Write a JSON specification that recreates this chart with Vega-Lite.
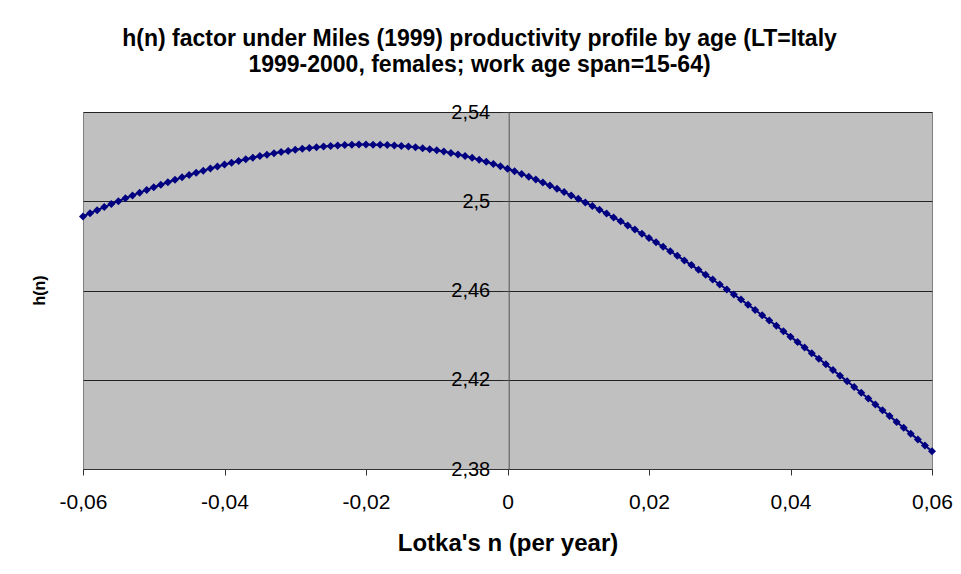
{
  "$schema": "https://vega.github.io/schema/vega-lite/v6.json",
  "width": 849,
  "height": 357,
  "autosize": {"type": "none"},
  "padding": {"left": 83, "top": 112, "right": 29, "bottom": 105},
  "background": "white",
  "config": {
    "font": "Liberation Sans",
    "view": {"fill": "#C0C0C0", "stroke": "#808080", "strokeWidth": 1},
    "locale": {"number": {"decimal": ",", "thousands": ".", "grouping": [3], "currency": ["", ""], "minus": "-"}},
    "axis": {"labelFont": "Liberation Sans", "titleFont": "Liberation Sans", "labelColor": "#000", "titleColor": "#000"}
  },
  "title": {
    "text": ["h(n) factor under Miles (1999) productivity profile by age (LT=Italy", "1999-2000, females; work age span=15-64)"],
    "font": "Liberation Sans",
    "fontSize": 23,
    "fontWeight": "bold",
    "lineHeight": 26,
    "color": "#000",
    "anchor": "middle",
    "frame": "group",
    "dx": -28,
    "offset": 25
  },
  "data": {"values": [
    {"n": -0.060, "h": 2.49320}, {"n": -0.059, "h": 2.49461}, {"n": -0.058, "h": 2.49601}, {"n": -0.057, "h": 2.49738},
    {"n": -0.056, "h": 2.49872}, {"n": -0.055, "h": 2.50004}, {"n": -0.054, "h": 2.50134}, {"n": -0.053, "h": 2.50261},
    {"n": -0.052, "h": 2.50385}, {"n": -0.051, "h": 2.50507}, {"n": -0.050, "h": 2.50626}, {"n": -0.049, "h": 2.50741},
    {"n": -0.048, "h": 2.50854}, {"n": -0.047, "h": 2.50964}, {"n": -0.046, "h": 2.51071}, {"n": -0.045, "h": 2.51175},
    {"n": -0.044, "h": 2.51275}, {"n": -0.043, "h": 2.51372}, {"n": -0.042, "h": 2.51466}, {"n": -0.041, "h": 2.51556},
    {"n": -0.040, "h": 2.51643}, {"n": -0.039, "h": 2.51727}, {"n": -0.038, "h": 2.51806}, {"n": -0.037, "h": 2.51882},
    {"n": -0.036, "h": 2.51954}, {"n": -0.035, "h": 2.52023}, {"n": -0.034, "h": 2.52087}, {"n": -0.033, "h": 2.52148},
    {"n": -0.032, "h": 2.52204}, {"n": -0.031, "h": 2.52256}, {"n": -0.030, "h": 2.52304}, {"n": -0.029, "h": 2.52348},
    {"n": -0.028, "h": 2.52388}, {"n": -0.027, "h": 2.52423}, {"n": -0.026, "h": 2.52454}, {"n": -0.025, "h": 2.52480},
    {"n": -0.024, "h": 2.52501}, {"n": -0.023, "h": 2.52518}, {"n": -0.022, "h": 2.52530}, {"n": -0.021, "h": 2.52538},
    {"n": -0.020, "h": 2.52540}, {"n": -0.019, "h": 2.52537}, {"n": -0.018, "h": 2.52530}, {"n": -0.017, "h": 2.52518},
    {"n": -0.016, "h": 2.52500}, {"n": -0.015, "h": 2.52477}, {"n": -0.014, "h": 2.52449}, {"n": -0.013, "h": 2.52415},
    {"n": -0.012, "h": 2.52376}, {"n": -0.011, "h": 2.52331}, {"n": -0.010, "h": 2.52281}, {"n": -0.009, "h": 2.52226},
    {"n": -0.008, "h": 2.52164}, {"n": -0.007, "h": 2.52097}, {"n": -0.006, "h": 2.52024}, {"n": -0.005, "h": 2.51945},
    {"n": -0.004, "h": 2.51860}, {"n": -0.003, "h": 2.51770}, {"n": -0.002, "h": 2.51673}, {"n": -0.001, "h": 2.51569},
    {"n": 0.000, "h": 2.51460}, {"n": 0.001, "h": 2.51345}, {"n": 0.002, "h": 2.51225}, {"n": 0.003, "h": 2.51101},
    {"n": 0.004, "h": 2.50972}, {"n": 0.005, "h": 2.50839}, {"n": 0.006, "h": 2.50701}, {"n": 0.007, "h": 2.50559},
    {"n": 0.008, "h": 2.50413}, {"n": 0.009, "h": 2.50263}, {"n": 0.010, "h": 2.50108}, {"n": 0.011, "h": 2.49949},
    {"n": 0.012, "h": 2.49787}, {"n": 0.013, "h": 2.49620}, {"n": 0.014, "h": 2.49450}, {"n": 0.015, "h": 2.49276},
    {"n": 0.016, "h": 2.49099}, {"n": 0.017, "h": 2.48918}, {"n": 0.018, "h": 2.48733}, {"n": 0.019, "h": 2.48545},
    {"n": 0.020, "h": 2.48353}, {"n": 0.021, "h": 2.48159}, {"n": 0.022, "h": 2.47961}, {"n": 0.023, "h": 2.47759},
    {"n": 0.024, "h": 2.47555}, {"n": 0.025, "h": 2.47348}, {"n": 0.026, "h": 2.47138}, {"n": 0.027, "h": 2.46925},
    {"n": 0.028, "h": 2.46709}, {"n": 0.029, "h": 2.46491}, {"n": 0.030, "h": 2.46270}, {"n": 0.031, "h": 2.46047},
    {"n": 0.032, "h": 2.45820}, {"n": 0.033, "h": 2.45592}, {"n": 0.034, "h": 2.45361}, {"n": 0.035, "h": 2.45128},
    {"n": 0.036, "h": 2.44893}, {"n": 0.037, "h": 2.44656}, {"n": 0.038, "h": 2.44417}, {"n": 0.039, "h": 2.44176},
    {"n": 0.040, "h": 2.43932}, {"n": 0.041, "h": 2.43688}, {"n": 0.042, "h": 2.43441}, {"n": 0.043, "h": 2.43193},
    {"n": 0.044, "h": 2.42943}, {"n": 0.045, "h": 2.42691}, {"n": 0.046, "h": 2.42439}, {"n": 0.047, "h": 2.42184},
    {"n": 0.048, "h": 2.41929}, {"n": 0.049, "h": 2.41672}, {"n": 0.050, "h": 2.41415}, {"n": 0.051, "h": 2.41156},
    {"n": 0.052, "h": 2.40896}, {"n": 0.053, "h": 2.40635}, {"n": 0.054, "h": 2.40373}, {"n": 0.055, "h": 2.40111},
    {"n": 0.056, "h": 2.39848}, {"n": 0.057, "h": 2.39585}, {"n": 0.058, "h": 2.39321}, {"n": 0.059, "h": 2.39056},
    {"n": 0.060, "h": 2.38791}
  ]},
  "encoding": {
    "x": {
      "field": "n", "type": "quantitative",
      "scale": {"domain": [-0.06, 0.06], "nice": false, "zero": false},
      "axis": {
        "values": [-0.06, -0.04, -0.02, 0, 0.02, 0.04, 0.06],
        "format": "~g",
        "grid": false,
        "title": "Lotka's n (per year)",
        "titleFontSize": 24, "titleFontWeight": "bold",
        "titleBaseline": "middle", "titleY": 74,
        "labelFontSize": 21, "labelBaseline": "middle", "labelPadding": 27,
        "labelFlush": false,
        "tickSize": 6, "tickColor": "#333", "domainColor": "#333"
      }
    },
    "y": {
      "field": "h", "type": "quantitative",
      "scale": {"domain": [2.38, 2.54], "nice": false, "zero": false},
      "axis": {
        "values": [2.38, 2.42, 2.46, 2.5, 2.54],
        "format": "~g",
        "offset": -425.7,
        "grid": true, "gridColor": "#222", "gridWidth": 1, "gridOpacity": 1,
        "title": "h(n)",
        "titleFontSize": 16, "titleFontWeight": "bold",
        "titleX": -469, "titleY": 178, "titleBaseline": "middle", "titleAlign": "center",
        "labelFontSize": 20, "labelPadding": 13, "labelFlush": false,
        "tickSize": 6, "tickColor": "#333", "domainColor": "#555"
      }
    }
  },
  "layer": [
    {"mark": {"type": "line", "color": "#000080", "strokeWidth": 2}},
    {"mark": {"type": "point", "shape": "diamond", "filled": true, "size": 64, "color": "#000080", "opacity": 1}}
  ]
}
